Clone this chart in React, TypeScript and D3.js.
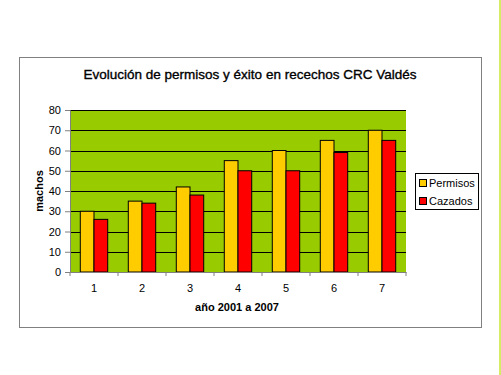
import React, { useEffect, useRef } from 'react';
import * as d3 from 'd3';

const width = 501,
      height = 375;

const categories = ['1', '2', '3', '4', '5', '6', '7'];
const permisos = [30, 35, 42, 55, 60, 65, 70];
const cazados = [26, 34, 38, 50, 50, 59, 65];
const yTicks = [0, 10, 20, 30, 40, 50, 60, 70, 80];
const seriesNames = ['Permisos', 'Cazados'];
const seriesColors = ['#FFCC00', '#FF0000'];

const font = 'Arial, "Liberation Sans", sans-serif';

const App = () => {
    const ref = useRef<SVGSVGElement>(null);

    useEffect(() => {
        const svg = d3.select(ref.current);
        svg.html('');

        const plot = { left: 70, top: 110, right: 406, bottom: 272 };

        // outer chart frame
        svg.append('rect')
            .attr('x', 19.5).attr('y', 57.5)
            .attr('width', 462).attr('height', 270)
            .attr('fill', '#fff').attr('stroke', '#808080').attr('stroke-width', 1);

        // green page line on the right
        svg.append('line')
            .attr('x1', 500).attr('x2', 500).attr('y1', 0).attr('y2', height)
            .attr('stroke', '#c8e632').attr('stroke-width', 1.5);

        svg.append('text')
            .attr('x', 250).attr('y', 79)
            .attr('text-anchor', 'middle')
            .attr('font-family', font).attr('font-size', 13.5)
            .attr('stroke', '#000').attr('stroke-width', 0.35)
            .attr('fill', '#000')
            .text('Evolución de permisos y éxito en recechos CRC Valdés');

        const x = d3.scaleBand().domain(categories).range([plot.left, plot.right]).paddingInner(0).paddingOuter(0);
        const y = d3.scaleLinear().domain([0, 80]).range([plot.bottom, plot.top]);
        const barW = x.bandwidth() / 3.5;
        const xs = d3.scaleBand().domain(seriesNames).range([0, barW * 2]);

        svg.append('rect')
            .attr('x', plot.left).attr('y', plot.top)
            .attr('width', plot.right - plot.left).attr('height', plot.bottom - plot.top)
            .attr('fill', '#99CC00');

        svg.append('g').selectAll('line')
            .data(yTicks.filter(t => t > 0))
            .enter().append('line')
            .attr('x1', plot.left).attr('x2', plot.right)
            .attr('y1', d => Math.round(y(d)) + 0.5).attr('y2', d => Math.round(y(d)) + 0.5)
            .attr('stroke', '#000').attr('stroke-width', 1);

        const series = [permisos, cazados];
        series.forEach((vals, si) => {
            svg.append('g').selectAll('rect')
                .data(vals)
                .enter().append('rect')
                .attr('x', (d, i) => (x(categories[i]) as number) + (x.bandwidth() - barW * 2) / 2 + (xs(seriesNames[si]) as number))
                .attr('y', d => y(d))
                .attr('width', barW)
                .attr('height', d => plot.bottom - y(d))
                .attr('fill', seriesColors[si])
                .attr('stroke', '#000').attr('stroke-width', 1);
        });

        // axes
        const yAxis = svg.append('g')
            .attr('transform', `translate(${plot.left},0)`)
            .call(d3.axisLeft(y).tickValues(yTicks).tickSize(5).tickPadding(4));
        yAxis.select('.domain').attr('stroke', '#808080');
        yAxis.selectAll('.tick line').attr('stroke', '#808080');
        yAxis.selectAll('text').attr('font-family', font).attr('font-size', 11).attr('fill', '#000');

        const xAxis = svg.append('g')
            .attr('transform', `translate(0,${plot.bottom})`)
            .call(d3.axisBottom(x).tickSize(0).tickPadding(12));
        xAxis.select('.domain').attr('stroke', '#808080');
        xAxis.selectAll('text').attr('font-family', font).attr('font-size', 11).attr('fill', '#000');

        // category separator ticks
        svg.append('g').selectAll('line')
            .data(d3.range(categories.length + 1))
            .enter().append('line')
            .attr('x1', i => plot.left + i * x.step()).attr('x2', i => plot.left + i * x.step())
            .attr('y1', plot.bottom).attr('y2', plot.bottom + 4)
            .attr('stroke', '#808080');

        svg.append('text')
            .attr('x', 237).attr('y', 311)
            .attr('text-anchor', 'middle')
            .attr('font-family', font).attr('font-size', 11).attr('font-weight', 'bold')
            .text('año 2001 a 2007');

        svg.append('text')
            .attr('transform', 'translate(43,191) rotate(-90)')
            .attr('text-anchor', 'middle')
            .attr('font-family', font).attr('font-size', 11).attr('font-weight', 'bold')
            .text('machos');

        // legend
        const legend = svg.append('g');
        legend.append('rect')
            .attr('x', 415.5).attr('y', 173.5).attr('width', 63).attr('height', 36)
            .attr('fill', '#fff').attr('stroke', '#000');
        seriesNames.forEach((name, i) => {
            legend.append('rect')
                .attr('x', 419.5).attr('y', 179.5 + i * 18).attr('width', 7).attr('height', 7)
                .attr('fill', seriesColors[i]).attr('stroke', '#000');
            legend.append('text')
                .attr('x', 429).attr('y', 187 + i * 18)
                .attr('font-family', font).attr('font-size', 11)
                .text(name);
        });
    }, []);

    return (
        <div style={{ position: 'absolute', left: 0, top: 0 }}>
            <svg ref={ref} width={width} height={height} viewBox={`0 0 ${width} ${height}`} style={{ display: 'block' }} />
        </div>
    );
};

export default App;
